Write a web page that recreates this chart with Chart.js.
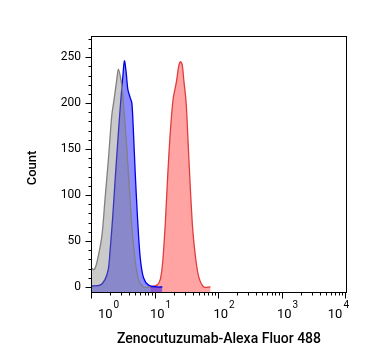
<!DOCTYPE html>
<html>
<head>
<meta charset="utf-8">
<script src="https://cdn.jsdelivr.net/npm/chart.js@4/dist/chart.umd.min.js"></script>
<style>
html,body{margin:0;padding:0;background:#fff;}
#wrap{width:367px;height:364px;position:relative;}
</style>
</head>
<body>
<div id="wrap"><canvas id="c" width="367" height="364"></canvas></div>
<script>
// ---- data (x = fluorescence intensity, y = count) ----
const grayX  = [1.00, 1.12, 1.23, 1.48, 1.66, 1.88, 2.12, 2.31, 2.55, 2.70, 2.95, 3.13, 3.36, 3.67, 4.03, 4.40, 4.96, 5.60, 6.71, 8.57];
const grayY  = [21,   19,   26,   55,   95,   139,  186,  204,  226,  237,  226,  212,  186,  150,  106,  66,   29,   8,    0,    0];

const blueX  = [1.00, 1.39, 1.66, 1.88, 2.00, 2.19, 2.39, 2.70, 2.95, 3.17, 3.36, 3.57, 3.80, 4.14, 4.40, 4.66, 4.96, 5.40, 5.95, 6.71, 8.05, 10.9, 13.3];
const blueY  = [1,    2,    8,    20,   40,   75,   115,  168,  204,  229,  246,  234,  215,  206,  200,  168,  125,  75,   32,   10,   2,    0,    0];

const redX   = [8.57, 10.9, 12.3, 13.4, 14.8, 16.1, 17.7, 19.6, 22.1, 24.0, 25.5, 27.2, 28.8, 31.4, 33.8, 36.7, 40.0, 44.1, 49.7, 59.7, 76.1];
const redY   = [0,    2,    8,    26,   70,   120,  168,  204,  223,  240,  245,  242,  226,  201,  157,  106,  62,   33,   11,   0,    0];

const xTickExponents = [0, 1, 2, 3, 4];
const yTickValues = [0, 50, 100, 150, 200, 250];
const xTitle = "Zenocutuzumab-Alexa Fluor 488";
const yTitle = "Count";

function pts(xs, ys){ return xs.map((x,i)=>({x:x, y:ys[i]})); }

const FONT = "Roboto, 'Liberation Sans', sans-serif";

const axesPlugin = {
  id: 'axesPlugin',
  afterDraw(chart){
    const ctx = chart.ctx;
    const a = chart.chartArea;
    const xs = chart.scales.x, ys = chart.scales.y;
    ctx.save();
    ctx.strokeStyle = '#000';
    ctx.lineWidth = 1;
    ctx.strokeRect(Math.round(a.left)+0.5, Math.round(a.top)+0.5, Math.round(a.right-a.left)-1, Math.round(a.bottom-a.top));
    const bottom = Math.round(a.bottom)+0.5;
    const left = Math.round(a.left)+0.5;
    ctx.beginPath();
    for (let d = 0; d <= 4; d++){
      for (let m = 1; m <= 9; m++){
        const v = m*Math.pow(10,d);
        if (v < xs.min || v > xs.max) continue;
        const px = Math.round(xs.getPixelForValue(v))+0.5;
        const len = (m===1) ? 6 : 3;
        ctx.moveTo(px, bottom); ctx.lineTo(px, bottom+len);
      }
    }
    for (let v = 0; v <= ys.max; v += 10){
      const py = Math.round(ys.getPixelForValue(v))+0.5;
      const len = (v % 50 === 0) ? 6 : 3;
      ctx.moveTo(left, py); ctx.lineTo(left-len, py);
    }
    ctx.stroke();
    ctx.fillStyle = '#000';
    ctx.textBaseline = 'alphabetic';
    ctx.textAlign = 'left';
    xTickExponents.forEach(e=>{
      const px = xs.getPixelForValue(Math.pow(10,e));
      ctx.font = '13px ' + FONT;
      const wb = ctx.measureText('10').width;
      ctx.font = '10px ' + FONT;
      const we = ctx.measureText(String(e)).width;
      const w = wb + we + 1;
      let lx = px + 6 - w/2;
      if (lx < a.left + 7) lx = a.left + 7;
      if (lx + w > a.right + 2) lx = a.right + 2 - w;
      ctx.font = '13px ' + FONT;
      ctx.fillText('10', lx, 318);
      ctx.font = '10px ' + FONT;
      ctx.fillText(String(e), lx + wb + 1, 308);
    });
    ctx.font = '12px ' + FONT;
    ctx.textAlign = 'right';
    ctx.textBaseline = 'middle';
    yTickValues.forEach(v=>{
      ctx.fillText(String(v), 81, ys.getPixelForValue(v));
    });
    ctx.font = '500 14px ' + FONT;
    ctx.textAlign = 'center';
    ctx.textBaseline = 'middle';
    ctx.fillText(xTitle, 219, 339);
    ctx.font = '500 13px ' + FONT;
    ctx.translate(33, 168);
    ctx.rotate(-Math.PI/2);
    ctx.fillText(yTitle, 0, 0);
    ctx.restore();
  }
};

new Chart(document.getElementById('c'), {
  type: 'line',
  data: {
    datasets: [
      { label: 'isotype', data: pts(grayX, grayY), borderColor: 'rgb(128,128,128)', backgroundColor: 'rgba(128,128,128,0.42)', fill: 'start', order: 1 },
      { label: 'unstained', data: pts(blueX, blueY), borderColor: 'rgb(0,0,225)', backgroundColor: 'rgba(0,0,255,0.45)', fill: 'start', order: 2 },
      { label: 'stained', data: pts(redX, redY), borderColor: 'rgb(225,60,60)', backgroundColor: 'rgba(255,0,0,0.36)', fill: 'start', order: 3 }
    ]
  },
  options: {
    responsive: false,
    animation: false,
    devicePixelRatio: 1,
    layout: { padding: { left: 91, right: 20, top: 36, bottom: 72 } },
    elements: { point: { radius: 0 }, line: { borderWidth: 1.3, tension: 0.3 } },
    plugins: { legend: { display: false }, tooltip: { enabled: false } },
    scales: {
      x: { type: 'logarithmic', min: 1, max: Math.pow(10, 4.03), display: false },
      y: { type: 'linear', min: -5.5, max: 273, display: false }
    }
  },
  plugins: [axesPlugin]
});
</script>
</body>
</html>
